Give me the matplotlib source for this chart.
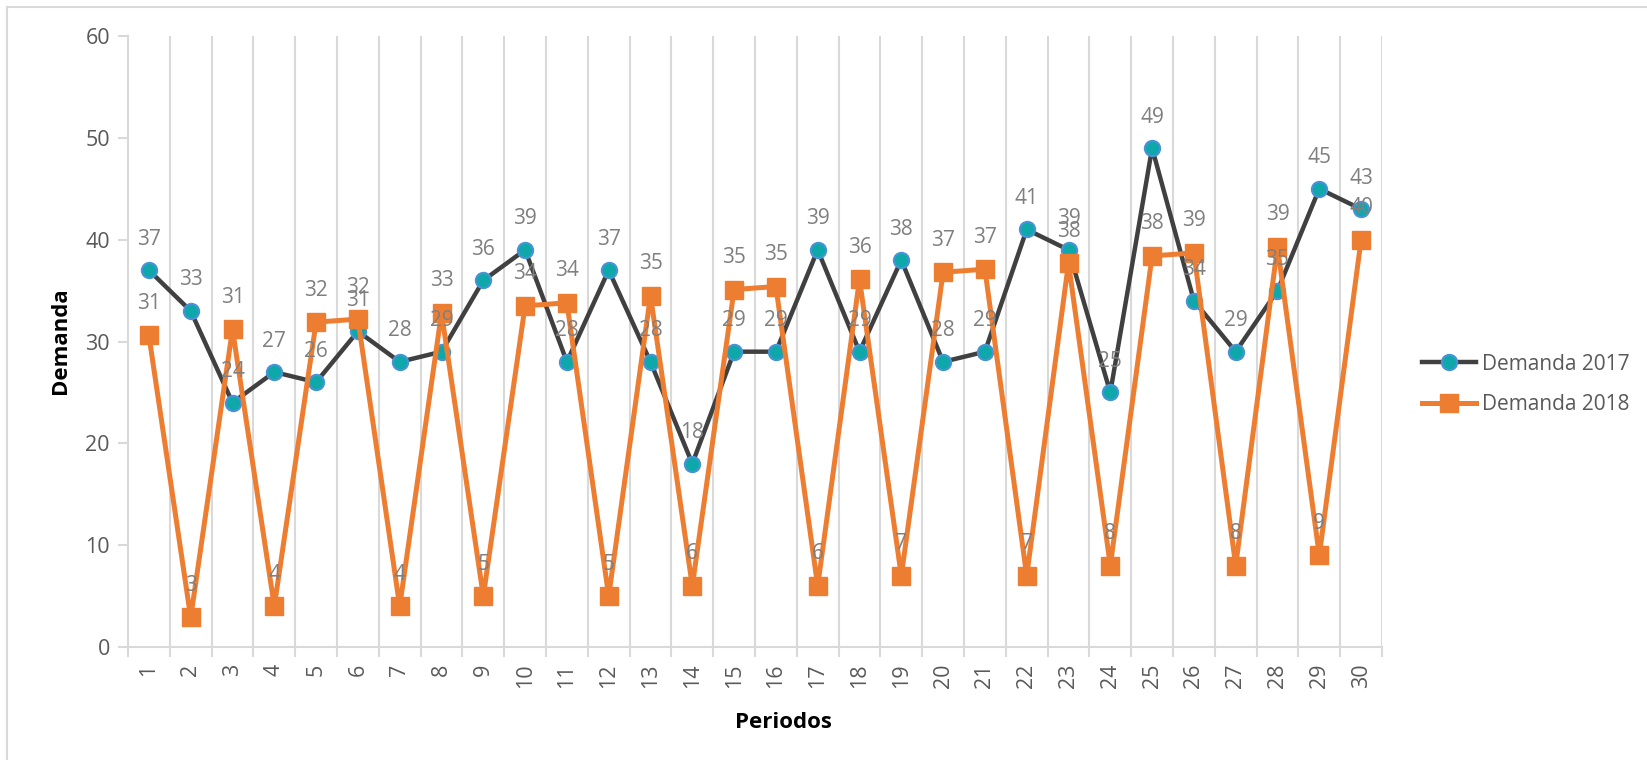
import matplotlib
matplotlib.use("Agg")
import matplotlib.pyplot as plt
from matplotlib.patches import Rectangle

periodos = list(range(1, 31))
demanda_2017 = [37, 33, 24, 27, 26, 31, 28, 29, 36, 39, 28, 37, 28, 18, 29,
                29, 39, 29, 38, 28, 29, 41, 39, 25, 49, 34, 29, 35, 45, 43]
demanda_2018 = [30.6, 2.9, 31.2, 4.0, 31.9, 32.2, 4.0, 32.8, 5.0, 33.5, 33.8, 5.0, 34.5, 6.0, 35.1,
                35.4, 6.0, 36.1, 7.0, 36.8, 37.1, 7.0, 37.7, 8.0, 38.4, 38.7, 8.0, 39.3, 9.0, 40.0]
series_names = ["Demanda 2017", "Demanda 2018"]
y_ticks = [0, 10, 20, 30, 40, 50, 60]

W, H = 1647, 760
fig = plt.figure(figsize=(W / 100, H / 100), dpi=100)
plt.rcParams['font.family'] = ['Open Sans', 'DejaVu Sans']

# outer chart border
fig.patches.append(Rectangle((7 / W, -0.05), 1.2, 1 - 7 / H + 0.05, transform=fig.transFigure,
                             fill=False, edgecolor='#d9d9d9', linewidth=1.5, zorder=0))

left, right, top, bottom = 128, 1382, 36, 647
ax = fig.add_axes([left / W, 1 - bottom / H, (right - left) / W, (bottom - top) / H])

gray_txt = '#595959'
lbl_col = '#7f7f7f'
grid_col = '#d9d9d9'

l1, = ax.plot(periodos, demanda_2017, color='#404040', lw=3.2, marker='o', ms=11,
              markerfacecolor='#0fa8aa', markeredgecolor='#4a92d8', markeredgewidth=1.5,
              zorder=3, label=series_names[0])
l2, = ax.plot(periodos, demanda_2018, color='#ed7d31', lw=3.6, marker='s', ms=13,
              markerfacecolor='#ed7d31', markeredgecolor='#ed7d31',
              zorder=4, label=series_names[1])


def fmt(v):
    return str(int(v + 0.5))


for x, v in zip(periodos, demanda_2017):
    ax.annotate(fmt(v), (x, v), xytext=(0, 31), textcoords='offset pixels',
                ha='center', va='center', fontsize=15, color=lbl_col, zorder=6)
for x, v in zip(periodos, demanda_2018):
    ax.annotate(fmt(v), (x, v), xytext=(0, 32), textcoords='offset pixels',
                ha='center', va='center', fontsize=15, color=lbl_col, zorder=6)

ax.set_xlim(0.5, 30.5)
ax.set_ylim(0, 60)
ax.set_yticks(y_ticks)
ax.set_xticks(periodos)
ax.set_xticklabels([str(p) for p in periodos], rotation=90)

# category gridlines between ticks
for k in range(1, 31):
    ax.axvline(k + 0.5, color=grid_col, lw=1.5, zorder=1)

for s in ['top', 'right']:
    ax.spines[s].set_visible(False)
for s in ['left', 'bottom']:
    ax.spines[s].set_color(grid_col)
    ax.spines[s].set_linewidth(1.5)

ax.tick_params(axis='y', colors=gray_txt, labelsize=15.5, length=7, width=1.5,
               color=grid_col, pad=6)
ax.tick_params(axis='x', colors=gray_txt, labelsize=15.5, length=0, pad=12)
ax.set_xticks([k + 0.5 for k in range(0, 31)], minor=True)
ax.tick_params(axis='x', which='minor', length=7, width=1.5, color=grid_col)

fig.text(61 / W, 1 - 341 / H, "Demanda", rotation=90, ha='center', va='center',
         fontsize=16, fontweight='bold', color='black')
fig.text(783 / W, 1 - 723 / H, "Periodos", ha='center', va='center',
         fontsize=16, fontweight='bold', color='black')

ax.legend(handles=[l1, l2], loc='center left',
          bbox_to_anchor=(1422 / W, 1 - 384.5 / H), bbox_transform=fig.transFigure,
          frameon=False, fontsize=15, handlelength=2.6, handletextpad=0.3,
          labelspacing=0.95, borderpad=0, borderaxespad=0, labelcolor=gray_txt)

fig.savefig("out.png", dpi=100, facecolor='white')
